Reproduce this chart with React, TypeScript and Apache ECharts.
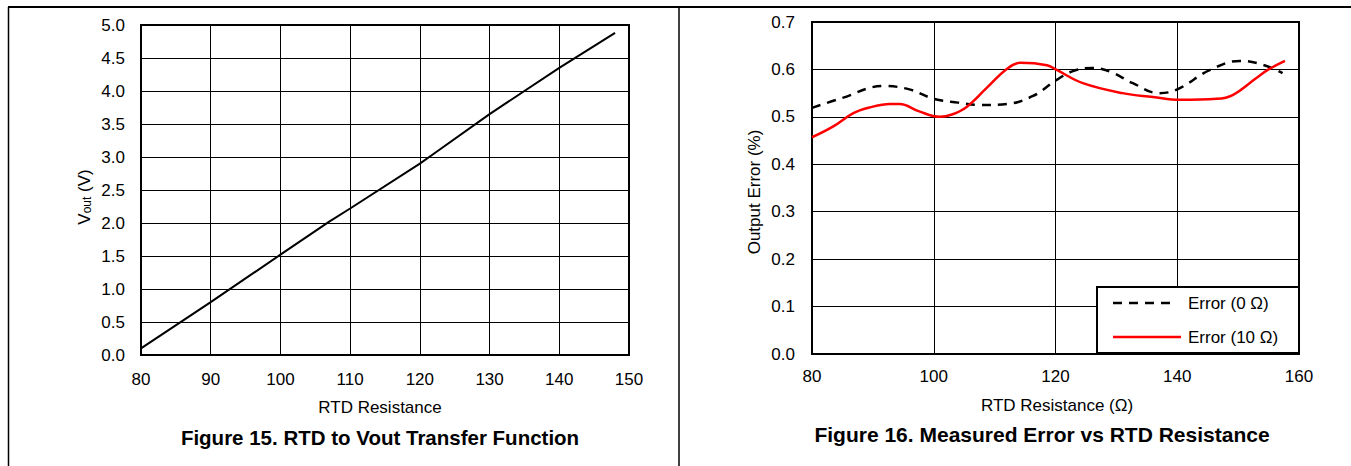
import React, { useEffect, useRef } from "react";
import * as echarts from "echarts";

// Figure 15: RTD to Vout transfer function
const vRes = [80, 90, 100, 107, 110, 120, 122, 130, 140, 148];
const vOut = [0.1, 0.8, 1.52, 2.02, 2.22, 2.9, 3.05, 3.65, 4.35, 4.88];

// Figure 16: measured error vs RTD resistance
const err0Res = [80, 85, 91.7, 96, 100, 104, 107.6, 112, 116.3, 120.2, 123, 126, 129, 132.7, 137, 140, 145.4, 150.3, 154, 157.3];
const err0Val = [0.519, 0.54, 0.565, 0.558, 0.538, 0.53, 0.525, 0.527, 0.544, 0.578, 0.597, 0.603, 0.595, 0.571, 0.55, 0.558, 0.599, 0.618, 0.61, 0.592];
const err10Res = [80, 83.5, 86.8, 89.5, 92.8, 94.4, 97.5, 101, 103, 105.4, 108.7, 112, 114.2, 118.6, 120.2, 124.5, 131, 136, 140.4, 146.5, 149.1, 153, 155, 157.7];
const err10Val = [0.457, 0.48, 0.508, 0.52, 0.527, 0.527, 0.512, 0.5, 0.505, 0.521, 0.561, 0.601, 0.614, 0.609, 0.599, 0.571, 0.55, 0.542, 0.536, 0.538, 0.546, 0.582, 0.6, 0.618];

const FONT = "Liberation Sans";

export default function App() {
  const ref = useRef<HTMLDivElement>(null);
  useEffect(() => {
    if (!ref.current) return;
    const chart = echarts.init(ref.current, undefined, { renderer: "svg" });
    const axisLabel = { color: "#000", fontSize: 17, fontFamily: FONT };
    const split = { show: true, lineStyle: { color: "#000", width: 1 } };
    chart.setOption({
      animation: false,
      backgroundColor: "#fff",
      grid: [
        { left: 141, top: 25, width: 488, height: 330, show: true, borderColor: "#000", borderWidth: 2, z: 3 },
        { left: 812, top: 22, width: 487, height: 332, show: true, borderColor: "#000", borderWidth: 2, z: 3 },
      ],
      xAxis: [
        {
          gridIndex: 0, type: "value", min: 80, max: 150, interval: 10,
          axisLine: { show: false }, axisTick: { show: false }, splitLine: split,
          axisLabel: { ...axisLabel, margin: 16 },
        },
        {
          gridIndex: 1, type: "value", min: 80, max: 160, interval: 20,
          axisLine: { show: false }, axisTick: { show: false }, splitLine: split,
          axisLabel: { ...axisLabel, margin: 14 },
        },
      ],
      yAxis: [
        {
          gridIndex: 0, type: "value", min: 0, max: 5, interval: 0.5,
          axisLine: { show: false }, axisTick: { show: false }, splitLine: split,
          axisLabel: { ...axisLabel, margin: 16, formatter: (v: number) => v.toFixed(1) },
        },
        {
          gridIndex: 1, type: "value", min: 0, max: 0.7, interval: 0.1,
          axisLine: { show: false }, axisTick: { show: false }, splitLine: split,
          axisLabel: { ...axisLabel, margin: 17, formatter: (v: number) => v.toFixed(1) },
        },
      ],
      series: [
        {
          type: "line", xAxisIndex: 0, yAxisIndex: 0, showSymbol: false, symbol: "none",
          data: vRes.map((x, i) => [x, vOut[i]]),
          lineStyle: { color: "#000", width: 2 },
        },
        {
          type: "line", name: "Error (0 Ω)", xAxisIndex: 1, yAxisIndex: 1, symbol: "none", smooth: 0.4,
          data: err0Res.map((x, i) => [x, err0Val[i]]),
          lineStyle: { color: "#000", width: 2.5, type: [9, 7] },
        },
        {
          type: "line", name: "Error (10 Ω)", xAxisIndex: 1, yAxisIndex: 1, symbol: "none", smooth: 0.4,
          data: err10Res.map((x, i) => [x, err10Val[i]]),
          lineStyle: { color: "#ff0000", width: 2.5 },
        },
      ],
      graphic: [
        { type: "line", shape: { x1: 8, y1: 7, x2: 1351, y2: 7 }, style: { stroke: "#000", lineWidth: 2 } },
        { type: "line", shape: { x1: 8.5, y1: 7, x2: 8.5, y2: 466 }, style: { stroke: "#000", lineWidth: 1.5 } },
        { type: "line", shape: { x1: 679, y1: 7, x2: 679, y2: 466 }, style: { stroke: "#000", lineWidth: 1.5 } },
        {
          type: "text", x: 84, y: 197, rotation: Math.PI / 2,
          style: {
            text: "V{s|out} (V)", fill: "#000", font: `17px '${FONT}'`, align: "center", verticalAlign: "middle",
            rich: { s: { fontSize: 12, fontFamily: FONT, verticalAlign: "bottom", padding: [6, 0, 0, 0] } },
          },
        },
        { type: "text", x: 380, y: 407, style: { text: "RTD Resistance", fill: "#000", font: `17px '${FONT}'`, align: "center", verticalAlign: "middle" } },
        { type: "text", x: 380, y: 437, style: { text: "Figure 15. RTD to Vout Transfer Function", fill: "#000", font: `bold 20.5px '${FONT}'`, align: "center", verticalAlign: "middle" } },
        { type: "text", x: 754, y: 192, rotation: Math.PI / 2, style: { text: "Output Error (%)", fill: "#000", font: `17px '${FONT}'`, align: "center", verticalAlign: "middle" } },
        { type: "text", x: 1057, y: 405, style: { text: "RTD Resistance (Ω)", fill: "#000", font: `17px '${FONT}'`, align: "center", verticalAlign: "middle" } },
        { type: "text", x: 1042, y: 434, style: { text: "Figure 16. Measured Error vs RTD Resistance", fill: "#000", font: `bold 21px '${FONT}'`, align: "center", verticalAlign: "middle" } },
        // legend box
        { type: "rect", z: 10, shape: { x: 1097, y: 287, width: 202, height: 66 }, style: { fill: "#fff", stroke: "#000", lineWidth: 2 } },
        { type: "line", z: 11, shape: { x1: 1113, y1: 303, x2: 1175, y2: 303 }, style: { stroke: "#000", lineWidth: 2.5, lineDash: [9, 7] } },
        { type: "text", z: 11, x: 1188, y: 303, style: { text: "Error (0 Ω)", fill: "#000", font: `17px '${FONT}'`, verticalAlign: "middle" } },
        { type: "line", z: 11, shape: { x1: 1113, y1: 337, x2: 1181, y2: 337 }, style: { stroke: "#ff0000", lineWidth: 2.5 } },
        { type: "text", z: 11, x: 1188, y: 337, style: { text: "Error (10 Ω)", fill: "#000", font: `17px '${FONT}'`, verticalAlign: "middle" } },
      ],
    });
    return () => chart.dispose();
  }, []);
  return <div ref={ref} style={{ position: "absolute", left: 0, top: 0, width: 1351, height: 466 }} />;
}
